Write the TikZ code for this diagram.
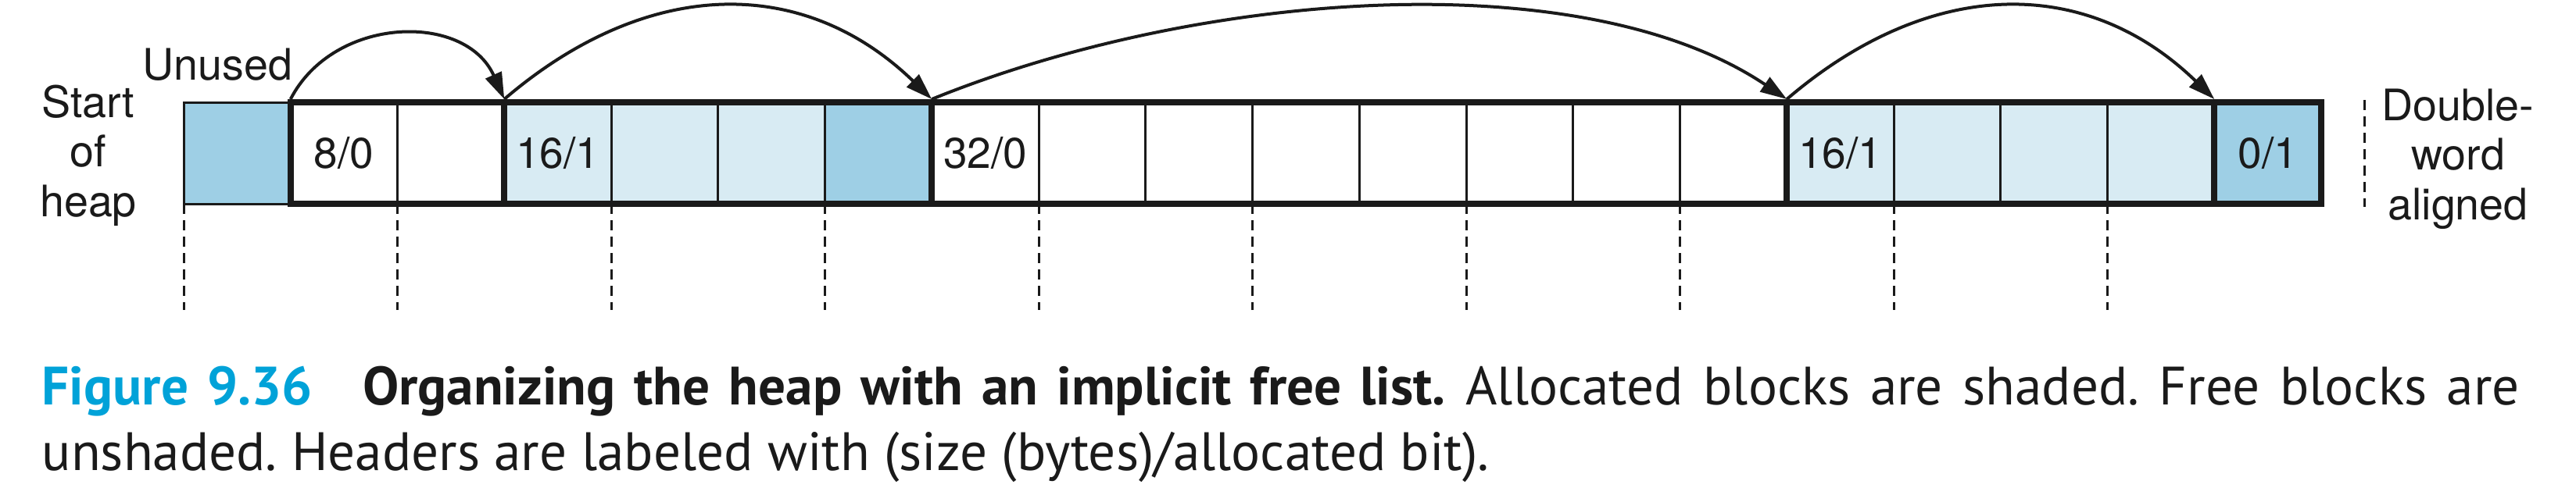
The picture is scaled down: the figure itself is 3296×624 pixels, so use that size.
\documentclass[tikz,border=0pt]{standalone}
\usepackage{fontspec}
\setmainfont{TeX Gyre Heros}
\newfontfamily\capfont{PT Sans}
\usetikzlibrary{arrows.meta}
\definecolor{lightblue}{HTML}{D8EBF3}
\definecolor{darkblue}{HTML}{9ECFE5}
\definecolor{ink}{HTML}{1A1A1A}
\definecolor{figblue}{HTML}{00A2D8}
\begin{document}
\frenchspacing
\begin{tikzpicture}[x=0.25pt,y=-0.25pt,
  cell/.style={draw=ink, line width=0.75pt, minimum width=34.1875pt, minimum height=32.5pt,
    inner sep=0pt, outer sep=0pt, anchor=north west, text=ink,
    font=\fontsize{13.75}{16}\selectfont},
  darkcell/.style={cell, fill=darkblue},
  freecell/.style={cell, fill=white},
  alloccell/.style={cell, fill=lightblue},
  heapline/.style={draw=ink, line width=2pt},
  dashline/.style={draw=ink, line width=0.75pt, dash pattern=on 3.25pt off 2pt},
  link/.style={draw=ink, line width=1pt, -{Triangle[length=8.5pt,width=5.5pt]}},
  lbl/.style={text=ink, font=\fontsize{13.9}{15.875}\selectfont, inner sep=0pt, align=center},
  caption/.style={inner sep=0pt, anchor=base west, text=ink, font=\capfont\fontsize{17.3}{20}\selectfont}
]
\useasboundingbox (0,0) rectangle (3296,624);
% cells
\node[darkcell]  (c0)  at (235.00,131) {};
\node[freecell]  (c1)  at (371.75,131) {8/0};
\node[freecell]  (c2)  at (508.50,131) {};
\node[alloccell] (c3)  at (645.25,131) {16/1};
\node[alloccell] (c4)  at (782.00,131) {};
\node[alloccell] (c5)  at (918.75,131) {};
\node[darkcell]  (c6)  at (1055.50,131) {};
\node[freecell]  (c7)  at (1192.25,131) {32/0};
\node[freecell]  (c8)  at (1329.00,131) {};
\node[freecell]  (c9)  at (1465.75,131) {};
\node[freecell]  (c10) at (1602.50,131) {};
\node[freecell]  (c11) at (1739.25,131) {};
\node[freecell]  (c12) at (1876.00,131) {};
\node[freecell]  (c13) at (2012.75,131) {};
\node[freecell]  (c14) at (2149.50,131) {};
\node[alloccell] (c15) at (2286.25,131) {16/1};
\node[alloccell] (c16) at (2423.00,131) {};
\node[alloccell] (c17) at (2559.75,131) {};
\node[alloccell] (c18) at (2696.50,131) {};
\node[darkcell]  (c19) at (2833.25,131) {0/1};
% heavy block outlines
\draw[heapline] (c1.north west) rectangle (c19.south east);
\foreach \k in {3,7,15,19} \draw[heapline] (c\k.north west) -- (c\k.south west);
% double-word boundaries
\foreach \k in {0,2,4,6,8,10,12,14,16,18}
  \draw[dashline] (c\k.south west) -- ++(0,136);
\coordinate (dwtop) at (3025,128);
\coordinate (dwbot) at (3025,265);
\draw[dashline] (dwtop) -- (dwbot);
% block links
\draw[link] ([yshift=1pt]c1.north west) .. controls +(55,-107) and +(-50,-112) .. ([yshift=1pt]c3.north west);
\draw[link] ([yshift=1pt]c3.north west) .. controls +(182,-156) and +(-165,-160) .. ([yshift=1pt]c7.north west);
\draw[link] ([yshift=1pt]c7.north west) .. controls +(345,-140) and +(-260,-175) .. ([yshift=1pt]c15.north west);
\draw[link] ([yshift=1pt]c15.north west) .. controls +(182,-156) and +(-165,-160) .. ([yshift=1pt]c19.north west);
% labels
\node[lbl, anchor=base] (start) at (113,277) {Start\\of\\heap};
\node[lbl, anchor=base east] (unused) at (375,102) {Unused};
\node[lbl, anchor=base] (dword) at (3145,281) {Double-\\word\\aligned};
% caption
\node[caption] (cap1) at (53,518) {\makebox[792.5pt][s]{\textcolor{figblue}{\bfseries Figure 9.36}\hspace{16pt}{\bfseries Organizing the heap with an implicit free list.} Allocated blocks are shaded. Free blocks are}};
\node[caption] (cap2) at (53,602) {unshaded. Headers are labeled with (size (bytes)/allocated bit).};
\end{tikzpicture}
\end{document}
